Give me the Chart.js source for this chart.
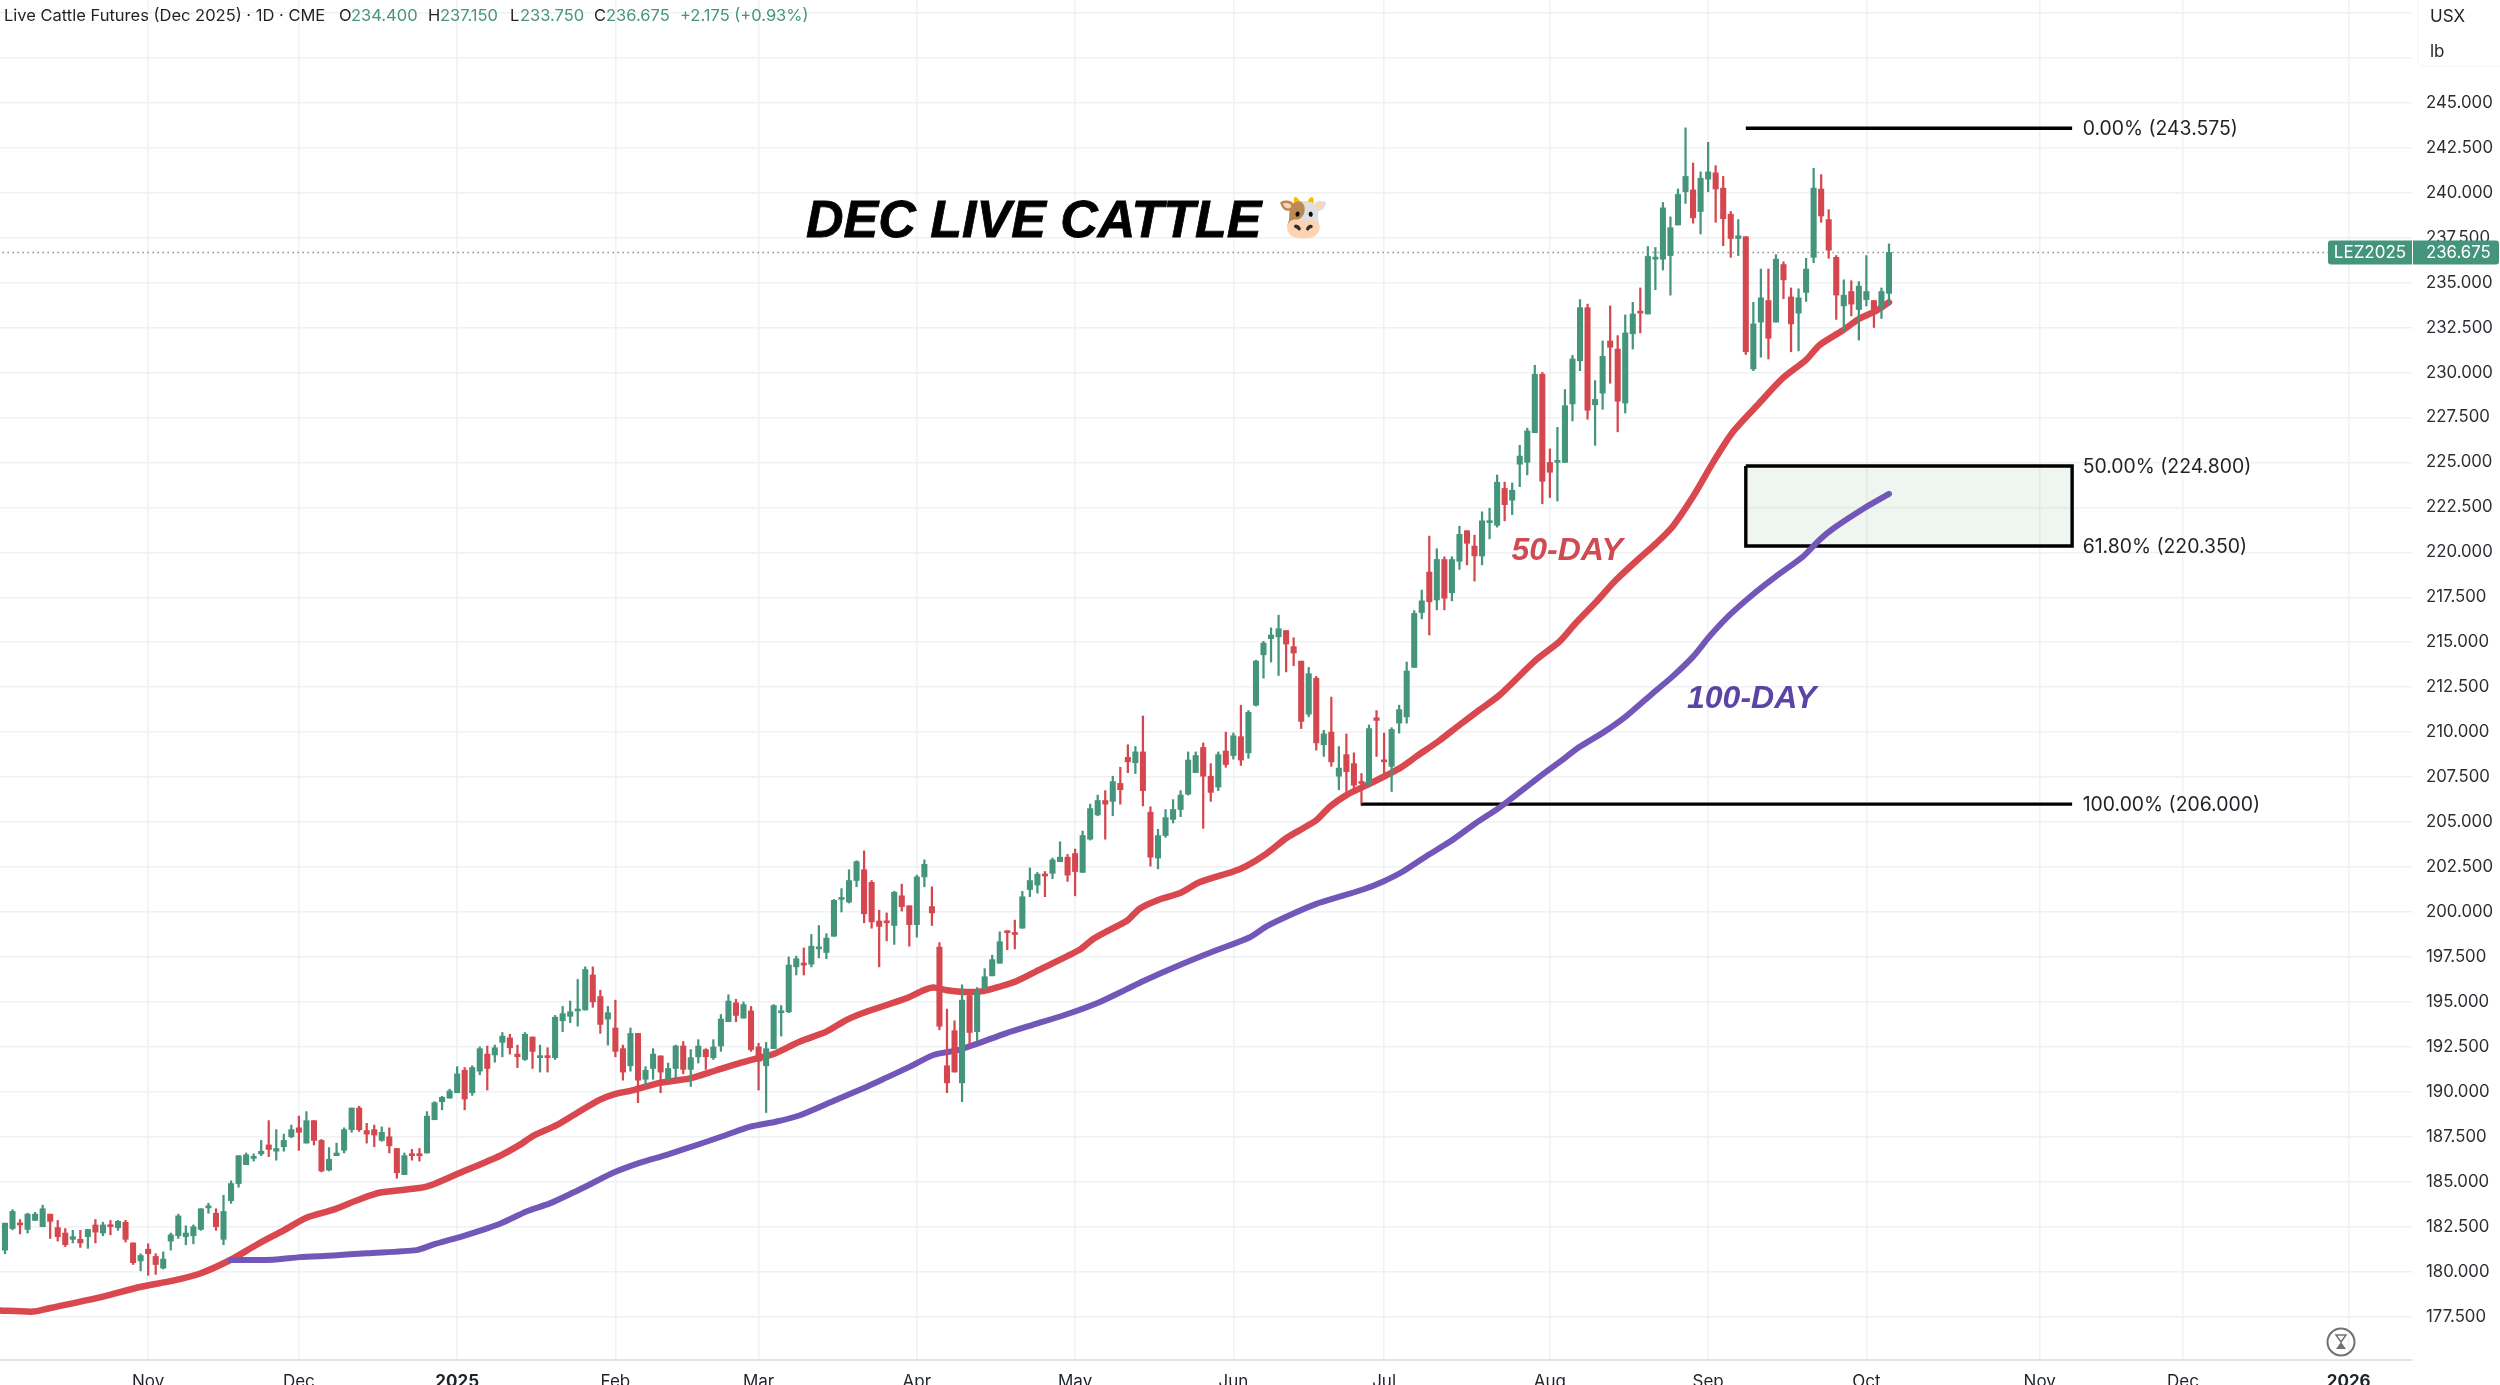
<!DOCTYPE html>
<html>
<head>
<meta charset="utf-8">
<title>Dec Live Cattle</title>
<script src="https://cdn.jsdelivr.net/npm/chart.js@4/dist/chart.umd.min.js"></script>
<style>
    html, body { margin: 0; padding: 0; background: #fff; overflow: hidden; }
    canvas { display: block; }
</style>
</head>
<body>
<canvas id="cattleChart" width="2500" height="1385"></canvas>
<script>
// ── Candles (one entry per trading day) ────────────────────────────
const opens = [
    181.2,182.4,182.7,182.35,182.85,182.5,183.2,182.45,182.15,181.8,
    181.8,181.95,182.6,182.15,182.55,182.45,182.75,181.6,180.6,181.25,
    180.85,180.2,181.7,182,181.95,182,182.35,183.55,183.25,181.8,
    183.95,184.9,185.95,186.3,186.55,187.05,186.7,186.95,187.5,188,
    187.15,188.4,187.3,185.65,186.45,186.75,187.9,189.1,187.85,187.9,
    187.3,187.5,186.85,185.4,186.5,186.5,186.6,188.45,189.45,189.65,
    189.95,191.2,189.95,191.15,192.1,192.05,192.75,193,192.1,191.8,
    193.05,191.9,192,191.9,193.95,194.2,194.5,194.55,196.5,195.3,
    194.05,193.55,192.4,191.45,193.25,190.7,191.3,192,190.7,191.3,
    192.55,191.25,191.95,192.35,191.9,192.55,193.9,194.95,194.1,194.5,
    192.5,191.45,192.4,194.4,194.45,196.95,197.15,197.1,197.95,197.75,
    198.65,200.7,200.55,201.75,202.35,201.65,199.5,199.5,199.25,200.9,
    200.35,199.3,201.95,200.3,198.05,191.45,193.4,190.5,195.35,193.35,
    195.75,196.45,197.15,198.9,198.8,199.1,201.25,201.5,202.05,202.15,
    202.8,203.05,203.25,202.2,204.05,205.4,206.2,206.15,207.15,208.6,
    208.3,208.9,205.55,203,204.25,205.15,205.7,206.55,207.75,209.15,
    207.55,206.95,208.95,208.7,209.75,208.85,211.5,214.3,215.2,215.3,
    215.65,214.75,213.95,211,213,209.3,210,207.55,208.75,208.25,
    207.2,207.1,210.8,208.45,208.1,210.5,210.85,213.6,216.65,218.9,
    217.35,219.6,217.75,219.5,221.2,220.35,219.8,221.65,221.5,223.55,
    222.9,224.9,225,226.65,229.9,225,225,225,228.25,230.65,
    233.6,228.2,228.85,231.75,231.3,228.3,232.15,233.4,233.25,236.3,
    236.3,236.5,238.2,240.05,240.15,238.95,240.75,241.1,240.25,238.8,
    237.45,237.55,230.2,232.8,234,232.8,236,234.2,233.3,234.45,
    236.4,240.2,238.5,236.4,233.7,234.5,233.5,234.05,234,233.65,
    234.4
];
const highs = [
    182.7,183.45,182.9,183.25,183.3,183.7,183.2,182.85,182.4,182.3,
    182.3,182.35,182.9,182.75,182.85,182.85,182.85,181.6,181,181.55,
    181,181.1,182.15,183.2,182.55,182.6,183.5,183.8,183.5,184.25,
    185.05,186.45,186.6,186.55,187.3,188.4,187.9,187.65,188.15,188.65,
    188.9,188.4,187.35,186.9,187.15,188,189.1,189.2,188.25,188.15,
    188.05,188,186.85,186.6,186.8,186.85,188.9,189.45,189.75,190.15,
    191.4,191.35,191.45,192.5,192.55,192.6,193.3,193.2,192.6,193.3,
    193.05,192.6,192.45,194.25,194.75,195.05,196.25,196.95,196.95,195.65,
    194.75,195.1,192.6,193.55,193.25,191.4,192.4,192,191.6,192.6,
    192.8,192.35,192.9,192.4,192.9,194.3,195.4,195.15,195,194.75,
    192.7,192.75,194.85,194.8,197.5,197.55,198,198.75,199.25,198.8,
    200.7,201.3,202.35,202.85,203.4,201.75,200.1,199.95,201.15,201.55,
    200.35,202.05,202.9,201.4,198.3,194.6,193.95,195.95,195.4,195.8,
    196.85,197.6,198.9,198.95,199.55,201.15,202.45,202.2,202.25,203,
    203.9,203.2,203.5,204.5,206,206.5,206.75,207.55,208.05,209.3,
    209.2,210.9,205.85,204.6,205.7,206.25,206.75,208.9,208.9,209.4,
    208.25,208.9,210,209.95,211.5,211.2,214,215.05,215.8,216.5,
    215.65,215.25,213.95,213.6,213.1,210.1,211.95,209.2,209.9,208.85,
    207.7,210.4,211.2,209.95,210.25,211.5,213.9,216.75,217.9,220.9,
    220.2,219.75,219.75,221.45,221.2,220.95,222.25,222.45,224.3,223.9,
    223.85,225.95,226.9,230.4,230,225.75,226.95,229.05,230.95,234.05,
    233.8,229.55,231.75,233.7,232.05,233.2,233.9,234.7,237,236.95,
    239.45,238.65,240.2,243.6,241.65,241.15,242.8,241.5,240.9,238.95,
    238.5,237.55,233.9,235.75,235.75,236.55,236.15,234.7,234.65,236.35,
    241.35,241,239.05,236.5,235.15,235.1,235.05,236.5,234,234.7,
    237.15
];
const lows = [
    181,182.33,182.1,182.15,182.85,182.5,181.85,181.7,181.4,181.6,
    181.35,181.3,181.6,182,182.05,182.3,181.65,180.4,180.05,179.8,
    179.85,180.15,181.2,181.85,181.5,181.55,182.3,183.25,182.3,181.5,
    183.8,184.7,185.95,186.15,186.45,186.4,186.2,186.7,187.45,186.75,
    187.15,187.05,185.55,185.6,186.45,186.6,187.75,187.8,187.15,186.95,
    187.25,186.6,185.2,185.4,186.2,186.15,186.6,188.45,189,189.65,
    189.95,189,189.8,190.95,190.1,191.65,191.95,192.1,191.35,191.75,
    191.3,191.1,191.1,191.8,193.35,193.85,193.65,194.55,194.7,193.25,
    192.6,191.95,190.65,191.15,189.4,190.4,190.7,189.95,190.65,190.75,
    191,190.3,191.6,191.25,191.8,192.25,193.9,193.9,194.1,192.25,
    190.1,188.85,192.4,193.1,194.4,196.5,196.5,196.95,197.45,197.4,
    198.65,200,200.5,201.4,199.4,199.1,196.95,198.4,198.2,200.05,
    198.1,198.6,201.4,199.25,193.45,189.95,191.1,189.45,192.6,192.85,
    195.75,196.45,197.15,197.9,197.95,199.1,200.85,201.05,200.85,201.85,
    202.8,201.7,200.9,202.2,204,205.35,204.05,205.35,206,207.75,
    207.7,205.9,202.55,202.4,204.15,204.95,205.3,206.5,207.75,204.65,
    206.15,206.75,208.05,208.5,208.15,208.55,211.45,213,213.9,213.15,
    213.35,213.7,210.2,210.85,209,208.65,208.1,206.8,206.7,206.8,
    206.05,207.05,208.65,207.7,206.7,209.95,210.5,213.6,216.3,215.4,
    216.8,216.8,217.3,219.05,219.3,218.4,219.3,220.75,221.4,221.75,
    222.1,223.65,224.3,226.65,222.7,223.05,222.85,225,227.3,230.1,
    227.4,225.95,227.95,229.4,226.7,227.75,231.3,232.2,233.25,234.6,
    235.7,234.3,238.2,239.4,238.3,237.7,240.05,238.35,237.05,236.4,
    236.5,231,230.1,230.85,230.75,232.8,234.1,231.15,231.2,233.95,
    236.1,238.35,236.35,232.95,232.3,233.15,231.8,233.7,232.5,233,
    233.75
];
const closes = [
    182.7,183.35,182.6,183.2,183.2,183.5,182.8,181.95,181.5,181.95,
    181.6,182.35,182.2,182.6,182.5,182.8,181.8,180.5,180.9,181,
    180.4,180.7,182.05,183.1,182.15,182.5,183.5,183.6,182.5,183.35,
    184.9,186.45,186.5,186.4,186.7,186.8,186.85,187.3,187.9,187.75,
    188.4,187.3,185.6,186.25,186.6,187.9,189.1,187.9,187.65,187.6,
    187.75,187,185.5,186.45,186.45,186.45,188.65,189.4,189.7,190.05,
    191,189.6,191.35,192.4,191.3,192.45,193.1,192.45,191.95,193.2,
    192.25,191.95,191.9,194.15,194.35,194.45,194.6,196.8,195,193.75,
    194.4,192.25,191.1,193.25,190.65,191.2,192.1,191.1,191.3,192.55,
    191.25,191.9,192.55,191.95,192.5,194.05,195.05,194.25,194.85,192.35,
    191.7,192.4,194.8,194.5,197.05,197.4,197.05,198.1,198.05,198.55,
    200.65,200.8,201.75,202.8,199.9,199.45,199.2,199.4,201.1,200.3,
    199.3,201.95,202.65,199.95,193.65,190.5,191.1,195.1,193.3,195.6,
    196.4,197.35,198.35,198.85,198.75,200.85,201.75,202.1,202,202.9,
    203.05,202.05,202.25,204.25,205.75,206.2,206,207.25,206.8,208.35,
    208.9,206.75,203.05,204.25,205.25,205.7,206.5,208.45,208.7,207.55,
    206.65,208.75,208.2,209.8,208.45,211.1,213.95,214.95,215.4,215.75,
    214.9,214.4,210.6,213.25,209.4,209.9,208.35,208,207.8,207.05,
    207.15,210.2,210.65,208.35,210.15,211.25,213.4,216.6,217.3,217.25,
    219.6,217.45,219.6,221,220.5,219.8,221.75,221.7,223.9,222.65,
    223.45,225.35,226.75,229.9,223.95,224.45,225.05,228.15,230.75,233.6,
    227.9,228.5,230.9,231.4,228.4,232.2,233.25,233.3,236.45,236.4,
    239.15,238.05,239.9,240.9,238.6,240.8,241.15,240.2,238.55,237.45,
    237.6,231.15,232.7,234.15,231.9,236.3,235.15,232.7,234.15,235.75,
    240.25,238.7,236.8,234.3,234.3,233.8,234.8,234.5,233.5,234.5,
    236.675
];

// ── Moving averages (sampled along the curves) ─────────────────────
const ma50Days = [
    -1,3.8,6,12.6,17.9,22.3,25.9,29.9,33.4,37,40,43.6,46.9,49.8,55,56.8,60.4,65.7,
    68.3,70.1,73.2,75.8,78.9,80.7,83.4,86.9,90.9,94.4,97.5,100.2,102,105.5,109,111.7,
    114.3,119.6,121.9,123.2,125,127.6,129.8,132,134.2,137.3,142.6,144.4,147.5,149,
    150.6,153.2,155.9,158.5,163,164.7,167.4,170,171.8,174,175.8,178,180.7,185.1,187.3,
    190.4,193,195.7,198.3,203.2,206.3,208.5,211.2,213.8,216.9,219.1,221.3,224,226.6,229.3,
    232.8,235.9,239,240.8,243.9,246.1,248.4,250
];
const ma50Values = [
    177.85,177.78,177.98,178.57,179.15,179.5,179.9,180.65,181.5,182.3,183,183.45,184,184.4,184.65,184.85,185.5,186.45,
    187.05,187.55,188.15,188.8,189.55,189.85,190.1,190.5,190.75,191.2,191.6,191.9,192.1,192.8,193.35,194,
    194.45,195.2,195.65,195.8,195.65,195.55,195.6,195.85,196.15,196.8,197.9,198.5,199.2,199.55,
    200.2,200.7,201.05,201.65,202.25,202.55,203.25,204.1,204.55,205.1,205.85,206.5,207.05,208,208.65,
    209.55,210.4,211.25,212.05,214.03,215.05,216.1,217.27,218.47,219.68,220.5,221.44,223.1,224.96,226.7,
    228.3,229.68,230.7,231.53,232.35,233,233.45,233.9
];
const ma100Days = [
    29.9,35.6,39.1,43.6,48,54.6,56.8,61.3,65.7,69.2,72.3,75.4,77.6,80.7,84.2,87.8,92.2,95.7,98.8,
    102.4,105.5,110,113.9,116.5,120.1,123.2,126.7,132.9,136.4,140.8,145.3,148.8,151,155.9,160.3,
    165.2,167.4,170.9,174,177.1,180.2,182.9,185.5,188.6,191.7,195.2,198.3,203.4,206.3,209,212,215.1,218.7,
    221.3,224,226.2,228.9,231.9,235,238.6,240.8,242.7,246.7,250
];
const ma100Values = [
    180.65,180.66,180.81,180.9,181.03,181.2,181.5,182.05,182.67,183.35,183.8,184.4,184.85,185.5,186.05,186.5,187.1,187.6,188.05,
    188.35,188.7,189.5,190.2,190.7,191.4,192.05,192.35,193.27,193.73,194.3,195,195.7,196.15,197.05,197.8,
    198.6,199.2,199.9,200.45,200.85,201.25,201.7,202.25,203.1,203.9,204.95,205.8,207.45,208.35,209.2,209.96,210.88,212.18,
    213.1,214.2,215.33,216.53,217.64,218.66,219.77,220.7,221.35,222.45,223.25
];

// ── Fibonacci levels and last price ────────────────────────────────
const fibPercents = ["0.00%", "50.00%", "61.80%", "100.00%"];
const fibPrices   = [243.575, 224.8, 220.35, 206];
const fibStarts   = [231, 231, 231, 179.9];
const fibEnd      = 274.3;
const lastPrice   = 236.675;

// ── Axis ticks ─────────────────────────────────────────────────────
const monthDays   = [19, 39, 60, 81, 100, 121, 142, 163, 183, 205, 226, 247, 270, 289, 311];
const monthLabels = ["Nov", "Dec", "2025", "Feb", "Mar", "Apr", "May", "Jun", "Jul", "Aug", "Sep", "Oct", "Nov", "Dec", "2026"];
const priceTicks  = [177.5, 180, 182.5, 185, 187.5, 190, 192.5, 195, 197.5, 200, 202.5, 205, 207.5, 210, 212.5,
                     215, 217.5, 220, 222.5, 225, 227.5, 230, 232.5, 235, 237.5, 240, 242.5, 245, 247.5, 250];

const GREEN = "#45957d";
const RED   = "#d5474f";
const UI_FONT = "Inter, 'Liberation Sans', sans-serif";

const candleColors = opens.map((o, i) => closes[i] >= o ? GREEN : RED);
const zip = (xs, ys) => xs.map((x, i) => ({ x: x, y: ys[i] }));

const fibLine = i => [{ x: fibStarts[i], y: fibPrices[i] }, { x: fibEnd, y: fibPrices[i] }];

// ── Overlay text ───────────────────────────────────────────────────
function put(ctx, text, x, y, font, color, align, spacing) {
    ctx.font = font;
    ctx.fillStyle = color;
    ctx.textAlign = align || "left";
    ctx.textBaseline = "alphabetic";
    ctx.letterSpacing = spacing || "0px";
    ctx.fillText(text, x, y);
    ctx.letterSpacing = "0px";
}

const overlay = {
    id: "overlay",
    afterDraw(chart) {
        const ctx = chart.ctx;
        const xs = chart.scales.x;
        const ys = chart.scales.y;
        ctx.save();

        // header row
        const hf = "16.5px " + UI_FONT;
        put(ctx, "Live Cattle Futures (Dec 2025) · 1D · CME", 4, 21, hf, "#1f2328");
        put(ctx, "O", 339, 21, hf, "#1f2328");
        put(ctx, "234.400", 351, 21, hf, GREEN);
        put(ctx, "H", 428, 21, hf, "#1f2328");
        put(ctx, "237.150", 440, 21, hf, GREEN);
        put(ctx, "L", 510, 21, hf, "#1f2328");
        put(ctx, "233.750", 520, 21, hf, GREEN);
        put(ctx, "C", 594, 21, hf, "#1f2328");
        put(ctx, "236.675", 606, 21, hf, GREEN);
        put(ctx, "+2.175 (+0.93%)", 680, 21, hf, GREEN);

        // currency / unit box
        ctx.fillStyle = "#fff";
        ctx.strokeStyle = "#f1f2f4";
        ctx.lineWidth = 1;
        ctx.beginPath();
        ctx.roundRect(2418, -6, 90, 72, 6);
        ctx.fill();
        ctx.stroke();
        put(ctx, "USX", 2430, 22, "17px " + UI_FONT, "#1f2328");
        put(ctx, "lb", 2430, 57, "17px " + UI_FONT, "#1f2328");

        // title and moving average tags
        const bi = "italic bold ";
        const titleX = xs.getPixelForValue(106.3);
        const titleY = ys.getPixelForValue(237.55);
        put(ctx, "DEC LIVE CATTLE", titleX, titleY, bi + "52px 'Liberation Sans'", "#000");
        ctx.strokeStyle = "#000";
        ctx.lineWidth = 0.8;
        ctx.strokeText("DEC LIVE CATTLE", titleX, titleY);
        put(ctx, "🐮", 1277, 231, "42px 'Noto Color Emoji', 'Noto Sans', sans-serif", "#000");
        put(ctx, "50-DAY", xs.getPixelForValue(199.9), ys.getPixelForValue(219.58), bi + "32px 'Liberation Sans'", "#d04a52");
        put(ctx, "100-DAY", xs.getPixelForValue(223.2), ys.getPixelForValue(211.34), bi + "32px 'Liberation Sans'", "#5a44a6");

        // fib labels
        fibPrices.forEach((p, i) => {
            const label = fibPercents[i] + " (" + p.toFixed(3) + ")";
            put(ctx, label, xs.getPixelForValue(275.7), ys.getPixelForValue(p) + 7, "19.4px " + UI_FONT, "#1f2328");
        });

        // last price badge
        const yLast = ys.getPixelForValue(lastPrice);
        ctx.fillStyle = "#45957d";
        ctx.beginPath();
        ctx.roundRect(2328, yLast - 12, 84, 24, [3, 0, 0, 3]);
        ctx.fill();
        ctx.beginPath();
        ctx.roundRect(2413, yLast - 12, 86, 24, [0, 3, 3, 0]);
        ctx.fill();
        put(ctx, "LEZ2025", 2370, yLast + 6, "17px " + UI_FONT, "#fff", "center");
        put(ctx, lastPrice.toFixed(3), 2426, yLast + 6, "16.8px " + UI_FONT, "#fff");

        // hourglass marker
        ctx.strokeStyle = "#707070";
        ctx.fillStyle = "#707070";
        ctx.lineWidth = 2;
        ctx.beginPath();
        ctx.arc(2341, 1342, 13.5, 0, Math.PI * 2);
        ctx.stroke();
        ctx.lineWidth = 1.5;
        ctx.beginPath();
        ctx.moveTo(2336, 1335); ctx.lineTo(2346, 1335); ctx.lineTo(2341, 1342); ctx.closePath();
        ctx.stroke();
        ctx.beginPath();
        ctx.moveTo(2341, 1342); ctx.lineTo(2346, 1349); ctx.lineTo(2336, 1349); ctx.closePath();
        ctx.fill();

        ctx.restore();
    }
};

// ── Chart ──────────────────────────────────────────────────────────
new Chart(document.getElementById("cattleChart"), {
    type: "bar",
    data: {
        datasets: [
            {
                label: "Bodies",
                data: opens.map((o, i) => ({ x: i, y: [o, closes[i]] })),
                backgroundColor: candleColors,
                barThickness: 5.4,
                minBarLength: 2,
                grouped: false,
                order: 1
            },
            {
                label: "Wicks",
                data: lows.map((l, i) => ({ x: i, y: [l, highs[i]] })),
                backgroundColor: candleColors,
                barThickness: 1.6,
                grouped: false,
                order: 2
            },
            {
                type: "line",
                label: "100-day",
                data: zip(ma100Days, ma100Values),
                borderColor: "#7257b9",
                borderWidth: 6,
                borderCapStyle: "round",
                pointRadius: 0,
                tension: 0.25,
                order: 3
            },
            {
                type: "line",
                label: "50-day",
                data: zip(ma50Days, ma50Values),
                borderColor: "#d9484f",
                borderWidth: 6.5,
                borderCapStyle: "round",
                pointRadius: 0,
                tension: 0.25,
                order: 3
            },
            {
                type: "line",
                label: "0%",
                data: fibLine(0),
                borderColor: "#000",
                borderWidth: 3.4,
                pointRadius: 0,
                order: 4
            },
            {
                type: "line",
                label: "100%",
                data: fibLine(3),
                borderColor: "#000",
                borderWidth: 3.4,
                pointRadius: 0,
                order: 4
            },
            {
                type: "line",
                label: "Zone",
                data: [
                    { x: fibStarts[1], y: fibPrices[1] },
                    { x: fibEnd, y: fibPrices[1] },
                    { x: fibEnd, y: fibPrices[2] },
                    { x: fibStarts[2], y: fibPrices[2] },
                    { x: fibStarts[1], y: fibPrices[1] }
                ],
                borderColor: "#000",
                borderWidth: 3.4,
                borderJoinStyle: "miter",
                backgroundColor: "rgba(76, 160, 90, 0.09)",
                fill: "shape",
                pointRadius: 0,
                order: 5
            },
            {
                type: "line",
                label: "Last",
                data: [{ x: -1, y: lastPrice }, { x: 320, y: lastPrice }],
                borderColor: "#8a8f96",
                borderWidth: 1.5,
                borderDash: [1.5, 3.5],
                pointRadius: 0,
                order: 6
            }
        ]
    },
    options: {
        responsive: false,
        devicePixelRatio: 1,
        animation: false,
        layout: { padding: 0 },
        plugins: {
            legend: { display: false },
            tooltip: { enabled: false },
            title: { display: false }
        },
        scales: {
            x: {
                type: "linear",
                offset: false,
                min: -0.66,
                max: 319.4,
                afterBuildTicks: s => { s.ticks = monthDays.map(v => ({ value: v })); },
                afterFit: s => { s.height = 25; s.paddingLeft = 0; s.paddingRight = 0; },
                grid: { offset: false, color: "#f0f1f3", lineWidth: 1.5, drawTicks: false },
                border: { display: true, color: "#e4e5e7", width: 2 },
                ticks: {
                    autoSkip: false,
                    maxRotation: 0,
                    padding: 12,
                    color: "#1f2328",
                    callback: (v, i) => monthLabels[i],
                    font: ctx => ({
                        family: UI_FONT,
                        size: 17,
                        weight: /^\d/.test(monthLabels[ctx.index] || "") ? "bold" : "normal"
                    })
                }
            },
            y: {
                type: "linear",
                position: "right",
                min: 175.09,
                max: 250.71,
                afterBuildTicks: s => { s.ticks = priceTicks.map(v => ({ value: v })); },
                afterFit: s => { s.width = 88; s.paddingTop = 0; s.paddingBottom = 0; },
                grid: { color: "#f0f1f3", lineWidth: 1.5, drawTicks: false },
                border: { display: false },
                ticks: {
                    padding: 14,
                    color: "#2a2e33",
                    font: { family: UI_FONT, size: 16.8 },
                    callback: v => v > 245 ? "" : v.toFixed(3)
                }
            }
        }
    },
    plugins: [overlay]
});
</script>
</body>
</html>
